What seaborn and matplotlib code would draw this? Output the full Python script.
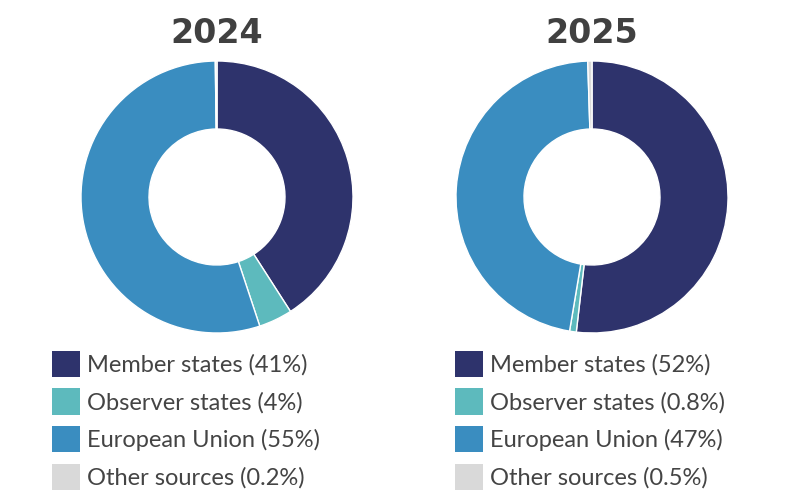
import matplotlib
matplotlib.use("Agg")
import matplotlib.pyplot as plt
import matplotlib.patches as mpatches
import seaborn as sns

# Data
categories = ["Member states", "Observer states", "European Union", "Other sources"]
years = ["2024", "2025"]
values_2024 = [41, 4, 55, 0.2]
values_2025 = [52, 0.8, 47, 0.5]
labels_2024 = ["41%", "4%", "55%", "0.2%"]
labels_2025 = ["52%", "0.8%", "47%", "0.5%"]

colors = ["#2E336C", "#5DBABD", "#3A8DC0", "#D9D9D9"]

sns.set_theme(style="white")
plt.rcParams['font.family'] = ['Lato', 'DejaVu Sans']

fig = plt.figure(figsize=(8, 5), dpi=100)

# donut positions (fig coords)
posiciones = [[0.10125, 0.334, 0.34, 0.544], [0.57, 0.334, 0.34, 0.544]]
leg_x = [52 / 800, 455 / 800]

for pos, year, vals, labs, lx in zip(posiciones, years, [values_2024, values_2025],
                                     [labels_2024, labels_2025], leg_x):
    ax = fig.add_axes(pos)
    ax.pie(vals, colors=colors, startangle=90, counterclock=False, radius=1,
           wedgeprops=dict(width=0.5, edgecolor="white", linewidth=1))
    ax.set_xlim(-1, 1)
    ax.set_ylim(-1, 1)
    ax.set_aspect("equal")
    ax.axis("off")
    ax.set_title(year, fontsize=24, fontweight="bold", color="#404040", pad=13,
                 family="DejaVu Sans")

    handles = [mpatches.Patch(facecolor=c, edgecolor="none") for c in colors]
    textos = [f"{cat} ({lab})" for cat, lab in zip(categories, labs)]
    fig.legend(handles, textos, loc="upper left", bbox_to_anchor=(lx - 0.006, 1 - 346 / 500),
               frameon=False, fontsize=17, handlelength=1.19, handleheight=1.35,
               handletextpad=0.3, labelspacing=0.47, borderaxespad=0, borderpad=0.2,
               labelcolor="#444444")

plt.savefig("out.png", dpi=100)
